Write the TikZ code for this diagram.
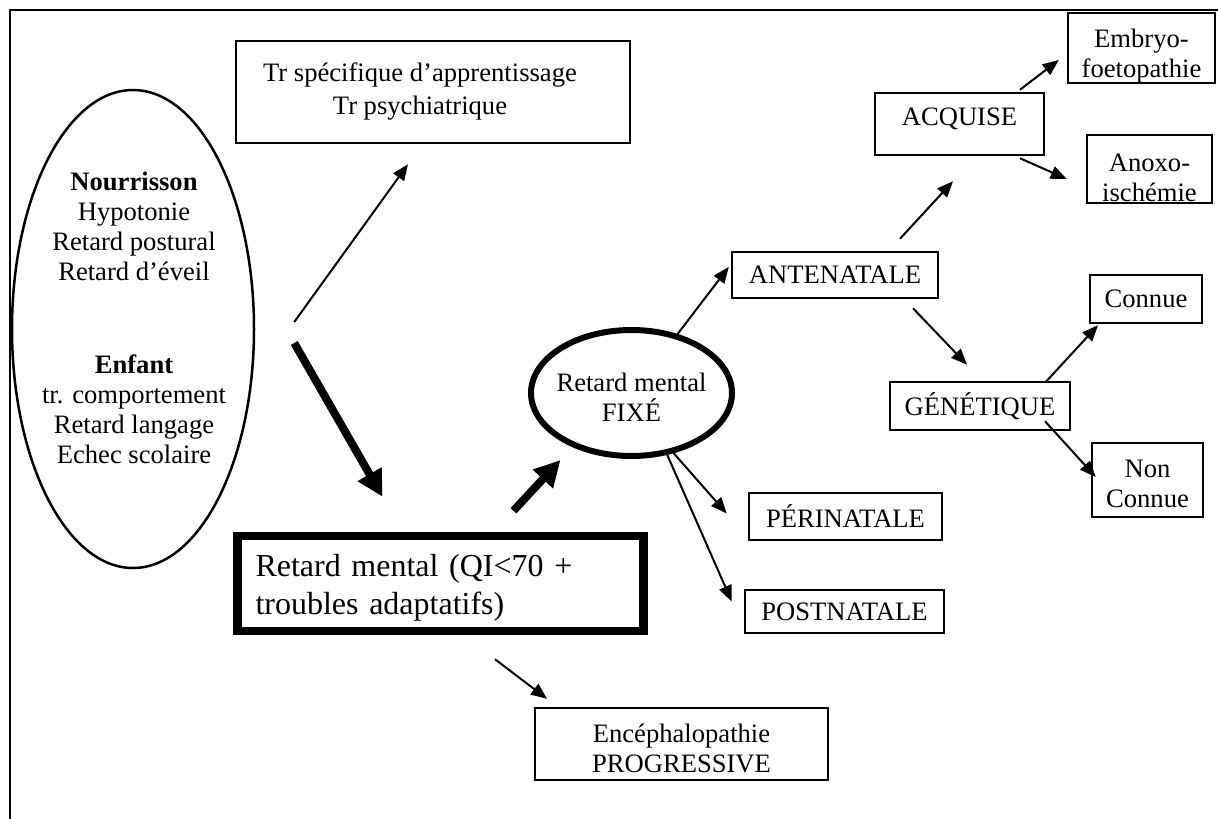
\documentclass[tikz,border=0pt]{standalone}
\usepackage{fontspec}
\setmainfont{Liberation Serif}
\usetikzlibrary{arrows.meta,shapes.geometric,calc}
\newcommand{\fsz}{\fontsize{26.6pt}{30pt}\selectfont}
\begin{document}
\begin{tikzpicture}[x=1pt,y=-1pt,
  box/.style={draw, line width=2.5pt, rectangle, inner sep=0pt, align=center, font=\fsz},
  txt/.style={inner sep=0pt, align=center, font=\fsz},
  arr/.style={line width=2pt, -{Triangle[length=16pt,width=13pt]}},
  bigarr/.style={line width=8pt, -{Triangle[length=26pt,width=26pt]}}]
\useasboundingbox (0,0) rectangle (1218,819);
% frame
\draw[line width=2pt] (10,819) -- (10,10) -- (1218,10);
% left ellipse
\node[draw, ellipse, line width=2.5pt, minimum width=242pt, minimum height=478pt, inner sep=0pt] (ell) at (133,329) {};
\node[txt] (ellt) at (134,318) {\textbf{Nourrisson}\\Hypotonie\\Retard postural\\Retard d’éveil\\[63pt]\textbf{Enfant}\\tr. comportement\\Retard langage\\Echec scolaire};
% boxes
\node[box, minimum width=394pt, minimum height=102pt] (tr) at (433,92) {Tr spécifique d’apprentissage\hspace*{26pt}\\[3pt]Tr psychiatrique\hspace*{26pt}};
\node[draw, rectangle, line width=8.5pt, inner xsep=18pt, inner ysep=0pt, text width=370pt, align=left, minimum width=406pt, minimum height=95pt, text height=30pt, font=\fontsize{32pt}{38pt}\selectfont] (big) at (440.5,583.5) {Retard mental (QI<70 +\\troubles adaptatifs)};
\node[draw, ellipse, line width=6pt, minimum width=201pt, minimum height=126pt, inner sep=0pt] (fixe) at (631.5,393) {};
\node[txt] (fixet) at (631.5,397) {Retard mental\\FIXÉ};
\node[box, minimum width=206pt, minimum height=46pt] (ant) at (835,275) {ANTENATALE};
\node[box, minimum width=169pt, minimum height=62pt, text depth=14pt] (acq) at (959.5,124) {ACQUISE};
\node[box, text width=147pt, minimum height=70pt, text height=34pt] (emb) at (1141.5,48) {Embryo-\\foetopathie};
\node[box, text width=125pt, minimum height=68pt, text height=35pt] (anox) at (1149.5,169) {Anoxo-\\ischémie};
\node[box, minimum width=180pt, minimum height=48pt] (gen) at (980,406) {GÉNÉTIQUE};
\node[box, minimum width=112pt, minimum height=48pt] (con) at (1146,299) {Connue};
\node[box, text width=111pt, minimum height=74pt, text height=25pt] (nc) at (1147.5,480) {Non\\Connue};
\node[box, minimum width=193pt, minimum height=47pt] (peri) at (845.5,516.5) {PÉRINATALE};
\node[box, minimum width=199pt, minimum height=43pt] (post) at (844.5,611.5) {POSTNATALE};
\node[box, text width=293pt, minimum height=72pt, text height=26.5pt] (enc) at (681.5,744) {Encéphalopathie\\PROGRESSIVE};
% connectors
\draw[arr] ($(ell.east)+(39,-7)$) -- ($(tr.south)+(-25,20)$);
\draw[bigarr] ($(ell.east)+(39,14)$) -- ($(big.north)+(-58,-35)$);
\draw[bigarr] ($(big.north)+(73,-21)$) -- ($(fixe.south)+(-71,1)$);
\draw[arr] (fixe.52) -- ($(ant.west)+(-2,-8)$);
\draw[arr] ($(ant.north)+(65,-12)$) -- ($(acq.south)+(-6.5,25)$);
\draw[arr] ($(acq.north)+(60.5,-2)$) -- ($(emb.west)+(-8,12)$);
\draw[arr] ($(acq.south)+(60.5,2)$) -- ($(anox.west)+(-19,10)$);
\draw[arr] ($(ant.south)+(78,9)$) -- ($(gen.north)+(-13,-16)$);
\draw[arr] ($(gen.north)+(65,2)$) -- ($(con.south)+(-48,1)$);
\draw[arr] ($(gen.south)+(65,-10)$) -- ($(nc.west)+(5,-3)$);
\draw[arr] (fixe.-55) -- ($(peri.west)+(-21,-3)$);
\draw[arr] (fixe.-60) -- ($(post.west)+(-12,-10)$);
\draw[arr] ($(big.south)+(54.5,24)$) -- ($(enc.north)+(-134.5,-8)$);
\end{tikzpicture}
\end{document}
